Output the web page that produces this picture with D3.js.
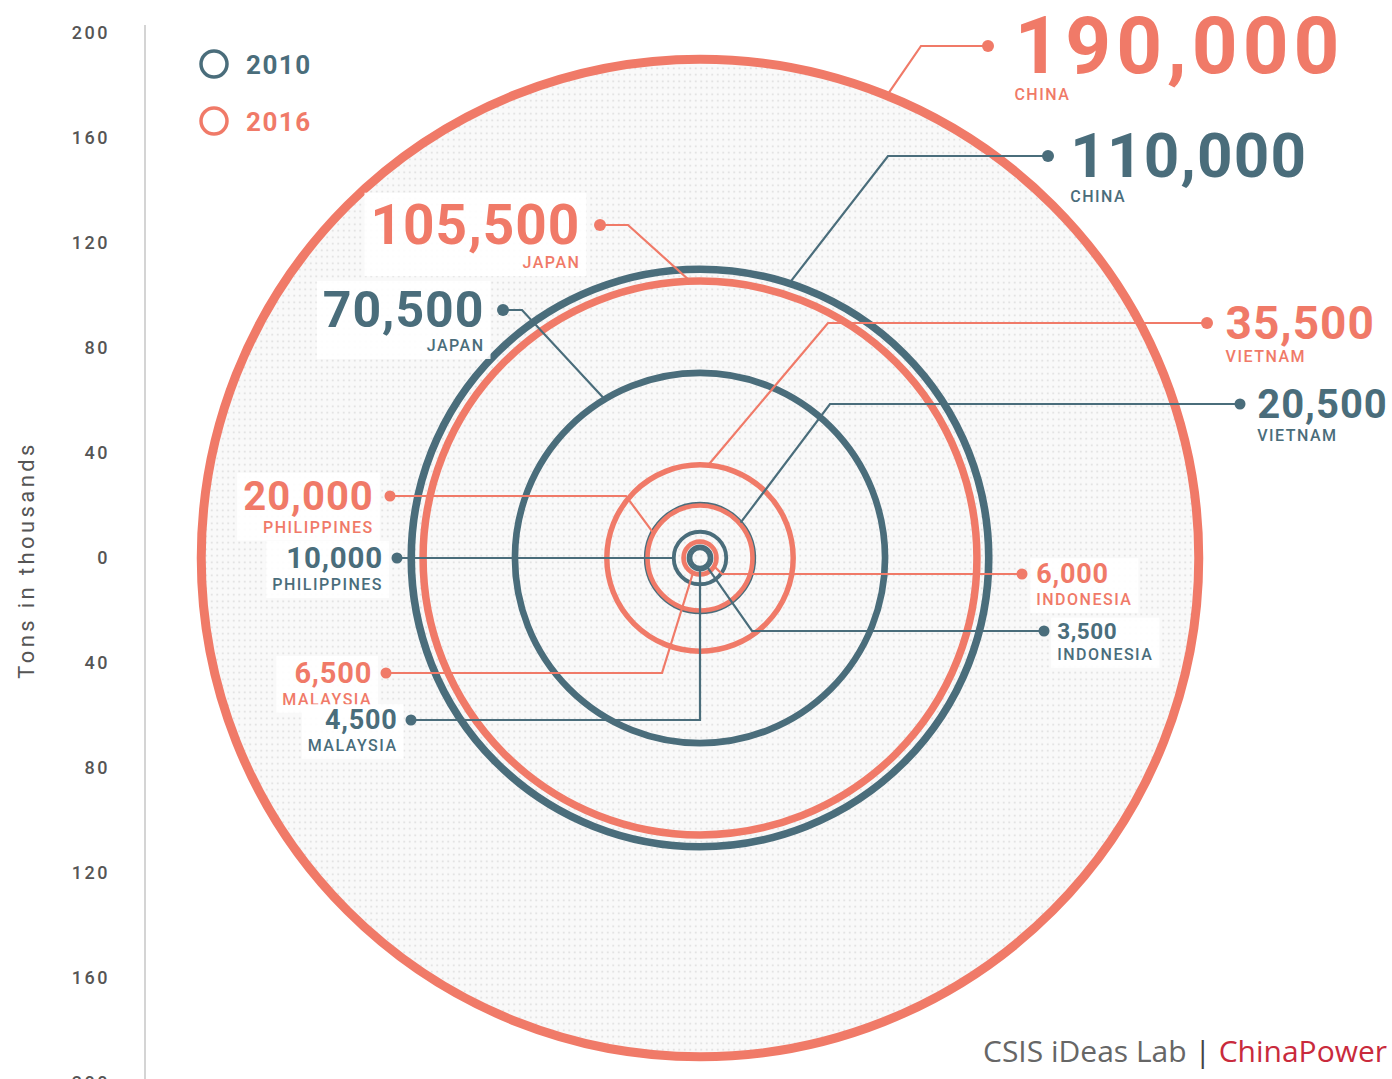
<!DOCTYPE html>
<html>
<head>
<meta charset="utf-8">
<script src="https://cdn.jsdelivr.net/npm/d3@7"></script>
<style>
  body { margin: 0; background: #fff; }
  svg { display: block; }
</style>
</head>
<body>
<div id="chart"></div>
<script>
// data, tons
var countries = ["China", "Japan", "Vietnam", "Philippines", "Malaysia", "Indonesia"];
var values2010 = [110000, 70500, 20500, 10000, 4500, 3500];
var values2016 = [190000, 105500, 35500, 20000, 6500, 6000];
var years = ["2010", "2016"];
var tickValues = [-200, -160, -120, -80, -40, 0, 40, 80, 120, 160, 200];
var axisTitle = "Tons in thousands";

// where each leader leaves its ring, where it bends, where the dot sits, label size
var layout = {
    "2016-China":       { angle: -68,  elbowX: 921, dot: [988, 46],   side: "right", fs: 80, ls: 5 },
    "2010-China":       { angle: -72,  elbowX: 888, dot: [1048, 156], side: "right", fs: 62, ls: 1.2 },
    "2016-Japan":       { angle: -92,  elbowX: 628, dot: [600, 225],  side: "left",  fs: 55, ls: 1 },
    "2010-Japan":       { angle: -121, elbowX: 522, dot: [503, 310],  side: "left",  fs: 50, ls: 1 },
    "2016-Vietnam":     { angle: -85,  elbowX: 828, dot: [1207, 323], side: "right", fs: 46, ls: 1 },
    "2010-Vietnam":     { angle: -41,  elbowX: 830, dot: [1240, 404], side: "right", fs: 40, ls: 1 },
    "2016-Philippines": { angle: -152, elbowX: 626, dot: [390, 496],  side: "left",  fs: 40, ls: 1 },
    "2010-Philippines": { angle: 180,  elbowX: null, dot: [397, 558], side: "left",  fs: 29.5, ls: 0.8 },
    "2016-Malaysia":    { angle: 115,  elbowX: 662, dot: [386, 673],  side: "left",  fs: 29, ls: 0.8 },
    "2010-Malaysia":    { angle: 90,   elbowX: null, dot: [411, 720], side: "left",  fs: 27, ls: 0.8 },
    "2016-Indonesia":   { angle: 30,   elbowX: 722, dot: [1022, 574], side: "right", fs: 27, ls: 0.8 },
    "2010-Indonesia":   { angle: 50,   elbowX: 752, dot: [1044, 631], side: "right", fs: 22.5, ls: 0.6 }
};

var colors = { "2010": "#4a6d7b", "2016": "#f07a68" };
var width = 1392, height = 1079;
var cx = 700;

var svg = d3.select("#chart").append("svg")
    .attr("width", width)
    .attr("height", height);

var defs = svg.append("defs");
var pat = defs.append("pattern")
    .attr("id", "dots")
    .attr("width", 5.5)
    .attr("height", 6.5)
    .attr("patternUnits", "userSpaceOnUse");
pat.append("rect").attr("width", 5.5).attr("height", 6.5).attr("fill", "#f9f9f9");
pat.append("circle").attr("cx", 2.75).attr("cy", 3.25).attr("r", 1).attr("fill", "#dedede");

// scales
var y = d3.scaleLinear().domain([-200, 200]).range([1083, 33]);
var cy = y(0);
var r = d3.scaleLinear().domain([0, 200000]).range([0, y(0) - y(200)]);
var strokeW = d3.scalePow().exponent(0.35).domain([0, 190000]).range([1, 9]);

// axis
var axis = svg.append("g")
    .attr("transform", "translate(145,0)")
    .call(d3.axisLeft(y)
        .tickValues(tickValues)
        .tickSize(0)
        .tickPadding(35)
        .tickFormat(function (d) { return Math.abs(d); }));
axis.select(".domain").attr("stroke", "#d4d4d4").attr("stroke-width", 2)
    .attr("d", "M0,25V" + height);
axis.selectAll("text")
    .attr("fill", "#555")
    .style("font-family", "Roboto, sans-serif")
    .style("font-size", "18px")
    .style("font-weight", 500)
    .style("letter-spacing", "2.5px");

svg.append("text")
    .attr("transform", "translate(34," + (cy + 2) + ") rotate(-90)")
    .attr("text-anchor", "middle")
    .attr("fill", "#555")
    .style("font-family", "Roboto, sans-serif")
    .style("font-size", "22px")
    .style("letter-spacing", "3.4px")
    .text(axisTitle);

// all records, biggest first
var records = [];
countries.forEach(function (c, i) {
    records.push({ country: c, year: "2010", value: values2010[i] });
    records.push({ country: c, year: "2016", value: values2016[i] });
});
records.sort(function (a, b) { return b.value - a.value; });

// dotted disc behind everything
svg.append("circle")
    .attr("cx", cx).attr("cy", cy)
    .attr("r", r(d3.max(values2016)))
    .attr("fill", "url(#dots)");

svg.append("g").selectAll("circle")
    .data(records)
    .enter()
    .append("circle")
    .attr("cx", cx)
    .attr("cy", cy)
    .attr("r", function (d) { return r(d.value); })
    .attr("fill", "none")
    .attr("stroke", function (d) { return colors[d.year]; })
    .attr("stroke-width", function (d) { return strokeW(d.value); });

// leader lines
function leaderPoints(d) {
    var L = layout[d.year + "-" + d.country];
    var a = L.angle * Math.PI / 180;
    var p0 = [cx + r(d.value) * Math.cos(a), cy + r(d.value) * Math.sin(a)];
    var ex = L.elbowX === null ? p0[0] : L.elbowX;
    return [p0, [ex, L.dot[1]], L.dot];
}

svg.append("g").selectAll("path")
    .data(records)
    .enter()
    .append("path")
    .attr("d", function (d) { return d3.line()(leaderPoints(d)); })
    .attr("fill", "none")
    .attr("stroke", function (d) { return colors[d.year]; })
    .attr("stroke-width", 2.2);

// labels
var labels = svg.append("g").selectAll("g")
    .data(records)
    .enter()
    .append("g");

labels.append("rect").attr("fill", "#fff").attr("opacity", 0.9);

labels.each(function (d) {
    var g = d3.select(this);
    var L = layout[d.year + "-" + d.country];
    var fs = L.fs;
    var gap = 8 + fs * 0.23;
    var x = L.side === "right" ? L.dot[0] + gap : L.dot[0] - gap + L.ls;
    var anchor = L.side === "right" ? "start" : "end";
    var base = L.dot[1] + fs * 0.34;

    g.append("text")
        .attr("x", x).attr("y", base)
        .attr("text-anchor", anchor)
        .attr("fill", colors[d.year])
        .style("font-family", "Roboto, sans-serif")
        .style("font-weight", 700)
        .style("font-size", fs + "px")
        .style("letter-spacing", L.ls + "px")
        .text(d3.format(",")(d.value));

    g.append("text")
        .attr("x", x).attr("y", base + 19 + fs * 0.1)
        .attr("text-anchor", anchor)
        .attr("fill", colors[d.year])
        .style("font-family", "Roboto, sans-serif")
        .style("font-weight", 500)
        .style("font-size", "16px")
        .style("letter-spacing", "1.5px")
        .text(d.country.toUpperCase());

    var bb = this.getBBox();
    g.select("rect")
        .attr("x", bb.x - 6).attr("y", bb.y)
        .attr("width", bb.width + 12).attr("height", bb.height + 4);
});

// dots at the end of the leaders
svg.append("g").selectAll("circle")
    .data(records)
    .enter()
    .append("circle")
    .attr("cx", function (d) { return layout[d.year + "-" + d.country].dot[0]; })
    .attr("cy", function (d) { return layout[d.year + "-" + d.country].dot[1]; })
    .attr("r", function (d) { return d.value > 30000 ? 6 : 5.5; })
    .attr("fill", function (d) { return colors[d.year]; });

// legend
var legend = svg.append("g").selectAll("g")
    .data(years)
    .enter()
    .append("g")
    .attr("transform", function (d, i) { return "translate(214," + (64 + i * 57) + ")"; });
legend.append("circle")
    .attr("r", 13)
    .attr("fill", "none")
    .attr("stroke", function (d) { return colors[d]; })
    .attr("stroke-width", 3.5);
legend.append("text")
    .attr("x", 32).attr("y", 10)
    .attr("fill", function (d) { return colors[d]; })
    .style("font-family", "Roboto, sans-serif")
    .style("font-weight", 700)
    .style("font-size", "26px")
    .style("letter-spacing", "1.5px")
    .text(function (d) { return d; });

// credit
var credit = svg.append("text")
    .attr("x", 983).attr("y", 1062)
    .style("font-family", "'Open Sans', sans-serif")
    .style("font-size", "30px");
credit.append("tspan").attr("fill", "#666").text("CSIS iDeas Lab ");
credit.append("tspan").attr("fill", "#444").text("| ");
credit.append("tspan").attr("fill", "#c92a3c").text("ChinaPower");
</script>
</body>
</html>
